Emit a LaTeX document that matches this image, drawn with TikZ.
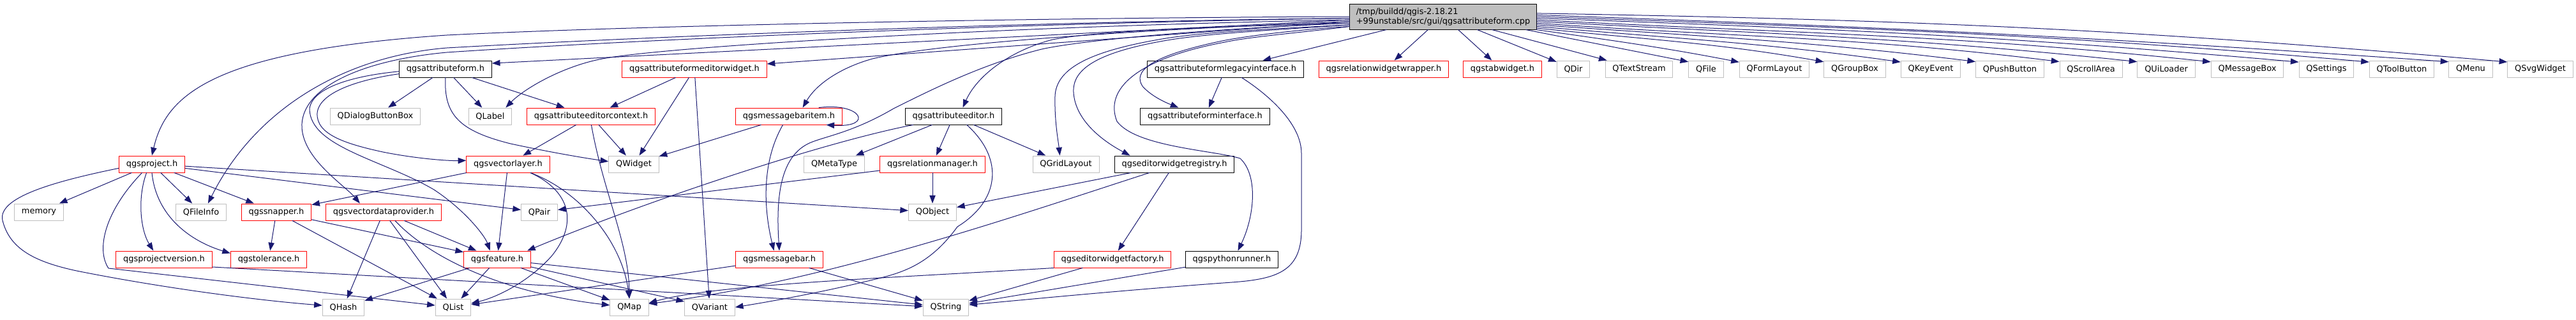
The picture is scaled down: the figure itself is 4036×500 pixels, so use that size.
\documentclass[tikz,border=0pt]{standalone}
\usepackage{fontspec}
\setmainfont{DejaVu Sans}
\usetikzlibrary{arrows.meta}
\definecolor{edgeblue}{HTML}{191970}
\definecolor{grey75}{HTML}{BFBFBF}
\begin{document}
\begin{tikzpicture}[x=0.75pt, y=-0.75pt, line join=round, line cap=round, >={Triangle[length=9.5pt,width=7pt]},
		font=\fontsize{9.7pt}{11.25pt}\selectfont,
		box/.style={draw, line width=0.75pt, fill=white, minimum height=19.5pt, inner xsep=8.5pt, inner ysep=0pt},
		redbox/.style={box, draw=red},
		greybox/.style={box, draw=grey75},
		blackbox/.style={box, draw=black},
		mainbox/.style={draw=black, fill=grey75, line width=0.75pt, align=left, inner xsep=7.5pt, minimum height=30pt},
		dep/.style={->, color=edgeblue, line width=0.75pt}]
	\useasboundingbox (0,0) rectangle (4036,500);
	\node[mainbox] (M) at (2261,26) {/tmp/buildd/qgis-2.18.21\\+99unstable/src/gui/qgsattributeform.cpp};
	% row 1
	\node[blackbox] (form) at (698,108) {qgsattributeform.h};
	\node[redbox] (fed) at (1088,108) {qgsattributeformeditorwidget.h};
	\node[blackbox] (leg) at (1920,108) {qgsattributeformlegacyinterface.h};
	\node[redbox] (rww) at (2168,108) {qgsrelationwidgetwrapper.h};
	\node[redbox] (tw) at (2354,108) {qgstabwidget.h};
	\foreach \n/\x/\t in {qdir/2465/QDir, qts/2568/QTextStream, qfile/2673/QFile, qfl/2780/QFormLayout,
		qgb/2906/QGroupBox, qke/3025/QKeyEvent, qpb/3149/QPushButton, qsa/3276/QScrollArea,
		qul/3394/QUiLoader, qmb/3521/QMessageBox, qset/3645/QSettings, qtb/3763/QToolButton,
		qmenu/3871/QMenu, qsvg/3980/QSvgWidget}
		\node[greybox] (\n) at (\x,108) {\t};
	% row 2
	\node[greybox] (dbb) at (588,182) {QDialogButtonBox};
	\node[greybox] (qlabel) at (768,182) {QLabel};
	\node[redbox] (aec) at (926,182) {qgsattributeeditorcontext.h};
	\node[redbox] (mbi) at (1236,182) {qgsmessagebaritem.h};
	\node[blackbox] (ae) at (1494,182) {qgsattributeeditor.h};
	\node[blackbox] (fi) at (1888,182) {qgsattributeforminterface.h};
	% row 3
	\node[redbox] (proj) at (238,257) {qgsproject.h};
	\node[redbox] (vl) at (796,257) {qgsvectorlayer.h};
	\node[greybox] (qwidget) at (993,257) {QWidget};
	\node[greybox] (qmt) at (1307,257) {QMetaType};
	\node[redbox] (rm) at (1461,257) {qgsrelationmanager.h};
	\node[greybox] (qgrid) at (1670,257) {QGridLayout};
	\node[blackbox] (reg) at (1840,257) {qgseditorwidgetregistry.h};
	% row 4
	\node[greybox] (mem) at (61,332) {memory};
	\node[greybox] (qfi) at (315,332) {QFileInfo};
	\node[redbox] (snap) at (433,332) {qgssnapper.h};
	\node[redbox] (vdp) at (601,332) {qgsvectordataprovider.h};
	\node[greybox] (qpair) at (845,332) {QPair};
	\node[greybox] (qobj) at (1461,332) {QObject};
	% row 5
	\node[redbox] (pv) at (257,406) {qgsprojectversion.h};
	\node[redbox] (tol) at (421,406) {qgstolerance.h};
	\node[redbox] (feat) at (779,406) {qgsfeature.h};
	\node[redbox] (mb) at (1221,406) {qgsmessagebar.h};
	\node[redbox] (ewf) at (1743,406) {qgseditorwidgetfactory.h};
	\node[blackbox] (py) at (1930,406) {qgspythonrunner.h};
	% row 6
	\foreach \n/\x/\t in {qhash/538/QHash, qlist/710/QList, qmap/986/QMap, qvar/1112/QVariant, qstr/1482/QString}
		\node[greybox] (\n) at (\x,481) {\t};

	% main file, left fan
	\draw[dep] (M.180) .. controls (1600,28) and (1000,40) .. (700,55) .. controls (330,80) and (260,150) .. (proj.north);
	\draw[dep] (M.181) .. controls (1600,34) and (1000,58) .. (700,75) .. controls (540,88) and (400,170) .. (qfi.51);
	\draw[dep] (M.181) .. controls (1600,36) and (1000,62) .. (700,82) .. controls (560,95) and (470,140) .. (473,200) .. controls (476,250) and (540,290) .. (vdp.160);
	\draw[dep] (M.182) -- (form.7);
	\draw[dep] (M.182) .. controls (1600,40) and (1050,72) .. (944,92) .. controls (880,104) and (820,140) .. (qlabel.29);
	\draw[dep] (M.183) -- (fed.4);
	\draw[dep] (M.183) .. controls (1700,50) and (1450,72) .. (1367,92) .. controls (1320,105) and (1280,130) .. (mbi.32);
	\draw[dep] (M.184) .. controls (1900,45) and (1700,62) .. (1632,77) .. controls (1540,100) and (1460,140) .. (1400,170) .. controls (1340,205) and (1300,212) .. (1273,222) .. controls (1225,240) and (1215,300) .. (mb.north);
	\draw[dep] (M.184) .. controls (1900,42) and (1720,48) .. (1649,62) .. controls (1580,80) and (1530,120) .. (ae.43);
	\draw[dep] (M.185) .. controls (2000,45) and (1880,50) .. (1815,62) .. controls (1700,82) and (1655,110) .. (1653,150) .. controls (1652,190) and (1658,220) .. (qgrid.125);
	\draw[dep] (M.185) .. controls (2000,47) and (1890,52) .. (1823,64) .. controls (1710,84) and (1680,112) .. (1682,145) .. controls (1685,190) and (1730,222) .. (reg.169);
	\draw[dep] (M.186) .. controls (2050,45) and (1960,55) .. (1915,64) .. controls (1800,88) and (1775,112) .. (1790,135) .. controls (1805,152) and (1830,162) .. (fi.162);
	\draw[dep] (M.186) .. controls (2050,50) and (1960,57) .. (1919,66) .. controls (1780,92) and (1730,140) .. (1750,190) .. controls (1780,230) and (1900,235) .. (1943,248) .. controls (1972,275) and (1965,340) .. (py.55);
	\foreach \n/\s/\a in {leg/193/13, rww/221/39, tw/319/141, qdir/339/157, qts/345/165, qfile/351/158}
		\draw[dep] (M.\s) -- (\n.\a);
	% main file, right fan
	\foreach \n/\s/\o/\i/\a/\d in {qfl/352/-8/169/169/90, qgb/353/-6/170/167/130, qke/354/-5/172/167/165,
		qpb/355/-4/173/168/200, qsa/356/-4/173/167/240, qul/357/-3/174/166/275, qmb/358/-3/174/169/310,
		qset/359/-2/175/166/350, qtb/0/-2/175/168/380, qmenu/1/-2/176/162/420, qsvg/2/-1/175/168/445}
		\draw[dep] (M.\s) .. controls +(\o:\d pt) and +(\i:\d pt) .. (\n.\a);

	% headers
	\foreach \a/\b in {form/dbb, form/qlabel, form/aec, fed/aec, fed/qwidget, fed/qvar, aec/vl, aec/qwidget,
		mbi/qwidget, ae/qmt, ae/rm, ae/qgrid, rm/qobj, rm/qpair, reg/qobj, reg/ewf, ewf/qstr, py/qstr,
		leg/fi, proj/mem, proj/qfi, proj/snap, proj/qpair, proj/qobj, snap/tol, snap/qlist, snap/feat,
		vdp/qhash, vdp/qlist, vdp/feat, vl/snap, vl/feat, feat/qhash, feat/qlist, feat/qmap, feat/qvar,
		feat/qstr, mb/qlist, mb/qstr}
		\draw[dep] (\a) -- (\b);
	\draw[dep] (pv.-9) -- (qstr.178);
	\draw[dep] (form.south) .. controls (695,180) and (720,205) .. (800,225) .. controls (870,240) and (920,248) .. (qwidget.174);
	\draw[dep] (form.183) .. controls (560,118) and (490,135) .. (485,170) .. controls (485,230) and (600,250) .. (680,297) .. controls (730,330) and (760,370) .. (feat.130);
	\draw[dep] (form.186) .. controls (560,125) and (500,145) .. (497,177) .. controls (495,210) and (540,225) .. (600,238) .. controls (650,248) and (700,252) .. (vl.175);
	\draw[dep] (aec.-88) .. controls (945,300) and (985,380) .. (qmap.north);
	\draw[dep] (mbi.235) .. controls (1195,250) and (1195,320) .. (mb.122);
	\draw[dep] (mbi.16) .. controls (1350,160) and (1370,200) .. (mbi.-13);
	\draw[dep] (ae.192) .. controls (1280,225) and (1000,320) .. (feat.16);
	\draw[dep] (ae.-33) .. controls (1575,250) and (1565,315) .. (1500,355) .. controls (1460,410) and (1420,425) .. (1380,435) .. controls (1300,455) and (1220,470) .. (qvar.east);
	\draw[dep] (reg.199) .. controls (1600,335) and (1300,440) .. (qmap.10);
	\draw[dep] (ewf.south west) .. controls (1400,435) and (1120,445) .. (qmap.12);
	\draw[dep] (leg.-28) .. controls (1990,150) and (2039,195) .. (2039,240) -- (2039,360) .. controls (2039,425) and (2000,437) .. (1930,442) .. controls (1750,455) and (1600,470) .. (qstr.6);
	\draw[dep] (proj.238) .. controls (215,310) and (220,360) .. (pv.141);
	\draw[dep] (proj.south) .. controls (245,340) and (300,378) .. (tol.171);
	\draw[dep] (proj.187) .. controls (80,285) and (-4,310) .. (4,345) .. controls (15,390) and (55,410) .. (120,424) .. controls (250,450) and (400,470) .. (qhash.175);
	\draw[dep] (proj.221) .. controls (165,330) and (150,390) .. (170,420) -- (qlist.174);
	\draw[dep] (vdp.-37) .. controls (680,410) and (800,460) .. (qmap.174);
	\draw[dep] (vl.-21) .. controls (895,300) and (905,350) .. (865,400) .. controls (830,440) and (780,465) .. (qlist.12);
	\draw[dep] (vl.-21) .. controls (910,300) and (975,380) .. (qmap.north);
\end{tikzpicture}
\end{document}
